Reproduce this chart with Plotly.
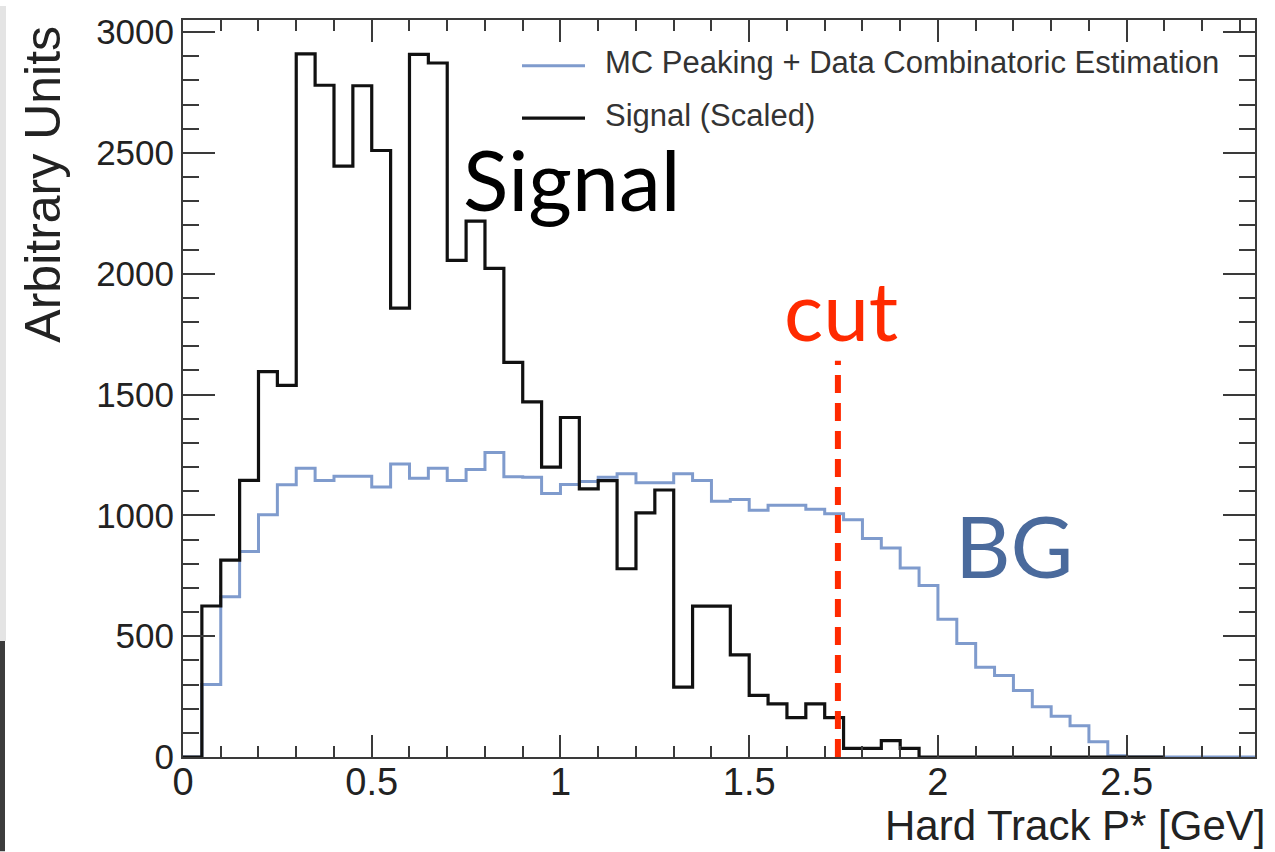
import numpy as np
import plotly.graph_objects as go

# ---------------- data ----------------
bin_width = 0.05
x_start = 0.0

signal_values = [0, 625, 815, 1145, 1595, 1538, 2910, 2780, 2445, 2778,
                 2510, 1858, 2908, 2872, 2055, 2218, 2022, 1633, 1470, 1200,
                 1405, 1110, 1144, 779, 1010, 1105, 289, 624, 624, 423,
                 255, 220, 163, 220, 163, 36, 36, 68, 36, 0,
                 0, 0, 0, 0, 0, 0, 0, 0, 0, 0,
                 0, 0]

bg_values = [0, 300, 663, 850, 1003, 1127, 1195, 1144, 1162, 1162,
             1117, 1213, 1154, 1195, 1144, 1190, 1260, 1160, 1158, 1090,
             1128, 1140, 1158, 1172, 1135, 1135, 1172, 1144, 1058, 1066,
             1021, 1042, 1042, 1025, 1007, 982, 904, 865, 782, 710,
             570, 470, 371, 337, 275, 208, 169, 129, 63, 5,
             0, 0, 0, 0, 0, 0, 0]

cut_value = 1.735
cut_top = 1640
x_range = [0, 2.84]
y_range = [0, 3050]
x_tickvals = [0, 0.5, 1, 1.5, 2, 2.5]
x_ticktext = ["0", "0.5", "1", "1.5", "2", "2.5"]
y_tickvals = [0, 500, 1000, 1500, 2000, 2500, 3000]
y_ticktext = ["0", "500", "1000", "1500", "2000", "2500", "3000"]

legend_bg = "MC Peaking + Data Combinatoric Estimation"
legend_sig = "Signal (Scaled)"
x_title = "Hard Track P* [GeV]"
y_title = "Arbitrary Units"

BG_COLOR = "#7f9bcd"
SIG_COLOR = "#111111"


def step_xy(values):
    edges = x_start + bin_width * np.arange(len(values) + 1)
    ys = list(values) + [values[-1]]
    return edges, ys


# ---------------- figure ----------------
W, H = 1275, 852
L, R, T, B = 183, 20, 14, 95

fig = go.Figure()

bx, by = step_xy(bg_values)
fig.add_trace(go.Scatter(x=bx, y=by, mode="lines", line_shape="hv",
                         line=dict(color=BG_COLOR, width=3),
                         name=legend_bg, showlegend=False))
sx, sy = step_xy(signal_values)
fig.add_trace(go.Scatter(x=sx, y=sy, mode="lines", line_shape="hv",
                         line=dict(color=SIG_COLOR, width=3.2),
                         name=legend_sig, showlegend=False))

# cut line
fig.add_trace(go.Scatter(x=[cut_value, cut_value], y=[0, cut_top], mode="lines",
                         line=dict(color="#ff2a00", width=6, dash="18px,10px"),
                         showlegend=False, hoverinfo="skip"))

axis_common = dict(showline=True, linecolor="#3a3a3a", linewidth=2, mirror="ticks",
                   ticks="inside", tickcolor="#3a3a3a", tickwidth=2,
                   showgrid=False, zeroline=False)

fig.update_xaxes(range=x_range, tickvals=x_tickvals, ticktext=x_ticktext,
                 ticklen=22, ticklabelstandoff=-10,
                 tickfont=dict(family="Liberation Sans, Arial, sans-serif",
                               size=38, color="#222222"),
                 minor=dict(dtick=0.1, ticks="inside", ticklen=11,
                            tickcolor="#3a3a3a", tickwidth=2, showgrid=False),
                 **axis_common)
fig.update_yaxes(range=y_range, tickvals=y_tickvals, ticktext=y_ticktext,
                 ticklen=32,
                 tickfont=dict(family="Liberation Sans, Arial, sans-serif",
                               size=35, color="#222222"),
                 minor=dict(dtick=100, ticks="inside", ticklen=16,
                            tickcolor="#3a3a3a", tickwidth=2, showgrid=False),
                 **axis_common)


def px_x(px):
    return (px - L) / (W - L - R)


def px_y(py):
    return (H - B - py) / (H - T - B)


annotations = [
    dict(text=x_title, x=px_x(1267), y=px_y(852), xanchor="right", yanchor="bottom",
         font=dict(family="Liberation Sans, Arial, sans-serif", size=42, color="#222222")),
    dict(text=y_title, x=px_x(43), y=px_y(180), xanchor="center", yanchor="middle",
         textangle=-90,
         font=dict(family="Liberation Sans, Arial, sans-serif", size=50, color="#222222")),
    dict(text="Signal", x=px_x(571), y=px_y(174), xanchor="center", yanchor="middle",
         font=dict(family="Lato, sans-serif", size=84, color="#000000")),
    dict(text="cut", x=px_x(841), y=px_y(305), xanchor="center", yanchor="middle",
         font=dict(family="Lato, sans-serif", size=82, color="#ff2a00")),
    dict(text="BG", x=px_x(1014), y=px_y(543), xanchor="center", yanchor="middle",
         font=dict(family="Lato, sans-serif", size=86, color="#4a6a9c")),
    dict(text=legend_bg, x=px_x(603), y=px_y(57), xanchor="left", yanchor="middle",
         font=dict(family="Liberation Sans, Arial, sans-serif", size=31, color="#333333")),
    dict(text=legend_sig, x=px_x(603), y=px_y(110), xanchor="left", yanchor="middle",
         font=dict(family="Liberation Sans, Arial, sans-serif", size=31, color="#333333")),
]
for a in annotations:
    a.update(xref="paper", yref="paper", showarrow=False)

shapes = [
    dict(type="line", xref="paper", yref="paper", x0=px_x(522), x1=px_x(585),
         y0=px_y(60), y1=px_y(60), line=dict(color=BG_COLOR, width=3)),
    dict(type="line", xref="paper", yref="paper", x0=px_x(522), x1=px_x(585),
         y0=px_y(113), y1=px_y(113), line=dict(color=SIG_COLOR, width=3.2)),
    dict(type="rect", xref="paper", yref="paper",
         x0=px_x(0), x1=px_x(5), y0=px_y(852), y1=px_y(640),
         fillcolor="#3c3c3c", line=dict(width=0), layer="above"),
    dict(type="rect", xref="paper", yref="paper",
         x0=px_x(0), x1=px_x(6), y0=px_y(640), y1=px_y(0),
         fillcolor="#e4e4e4", line=dict(width=0), layer="above"),
]

fig.update_layout(
    width=W, height=H,
    margin=dict(l=L, r=R, t=T, b=B),
    paper_bgcolor="white", plot_bgcolor="white",
    annotations=annotations,
    shapes=shapes,
    showlegend=False,
)

fig.write_html("out.html")
